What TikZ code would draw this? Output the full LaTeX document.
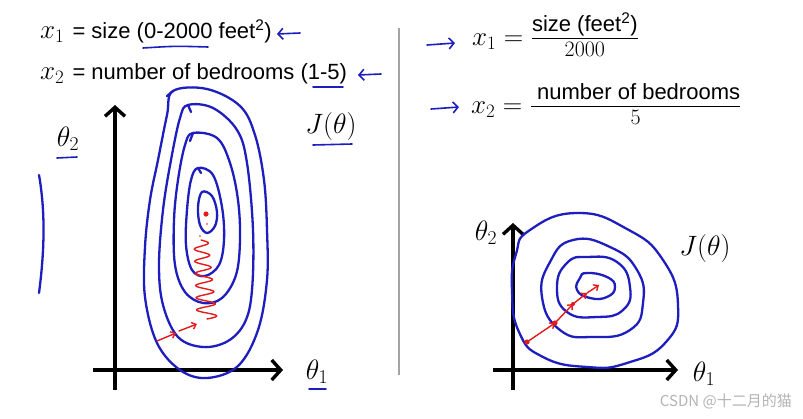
\RequirePackage{fix-cm}
\documentclass[tikz,border=0pt]{standalone}
\usepackage[no-math]{fontspec}
\usepackage{amsmath}
\usetikzlibrary{arrows.meta}
\newfontfamily\slidefont{Liberation Sans}
\newfontfamily\cjkfont{Noto Sans CJK SC}
\definecolor{pen}{HTML}{1E1EBE}
\definecolor{marker}{HTML}{E41B1B}
\definecolor{rule}{HTML}{A3A3A3}
\definecolor{stamp}{HTML}{B4B4B4}
\newcommand\sans{\slidefont\fontsize{22}{26}\selectfont}
\newcommand\slidetxt[1]{\text{\sans #1\rule[-5pt]{0pt}{5pt}}}
\newcommand\slidenum[1]{\text{\fontsize{22}{26}\selectfont\rule{0pt}{17pt}#1}}

\begin{document}
\begin{tikzpicture}[x=1pt, y=-1pt,
  lbl/.style={inner sep=0pt, font=\fontsize{27}{32}\selectfont},
  hand/.style={draw=pen, line width=1.6pt, line cap=round},
  handtip/.style={hand, -{Straight Barb[length=5pt, width=11pt]}},
  level/.style={draw=pen, line width=2.3pt, line cap=round},
  axis/.style={line width=3.4pt, -{Straight Barb[length=9pt, width=20pt]}},
  descent/.style={draw=marker, line width=1.4pt, line cap=round},
  steptip/.style={descent, -{Straight Barb[length=4pt, width=7pt]}}]
  \fill[white] (0,0) rectangle (803,418);
  \useasboundingbox (0,0) rectangle (803,418);

  % feature ranges
  \node[lbl, anchor=base west] (sizeline) at (40,38) {$x_1$ \sans = size (0-2000 feet\textsuperscript{2})};
  \node[lbl, anchor=base west] (roomline) at (40,79) {$x_2$ \sans = number of bedrooms (1-5)};
  \coordinate (w1) at (300,33); \coordinate (w1e) at (277,34);
  \coordinate (w2) at (381,74); \coordinate (w2e) at (358,75);
  \draw[handtip] (w1) -- (w1e);
  \draw[handtip] (w2) -- (w2e);
  \draw[hand] (143,48) .. controls (175,46) .. (208,47);
  \draw[hand] (313,87) -- (343,87);

  % scaled features
  \node[lbl, anchor=base west] (scaledone) at (472,45) {$x_1 = \frac{\slidetxt{size (feet\textsuperscript{2})}}{\slidenum{2000}}$};
  \node[lbl, anchor=base west] (scaledtwo) at (471,113) {$x_2 = \frac{\slidetxt{\ number of bedrooms}}{\slidenum{5}}$};
  \coordinate (e1) at (427,45); \coordinate (e1e) at (455,43);
  \coordinate (e2) at (431,109); \coordinate (e2e) at (459,107);
  \draw[handtip] (e1) -- (e1e);
  \draw[handtip] (e2) -- (e2e);

  \draw[rule, line width=1.5pt] (399,28) -- (399,375);

  % left: unscaled contours
  \draw[axis] (115,390) -- (115,105);
  \draw[axis] (93,370) -- (283,370);
  \node[lbl, font=\fontsize{28}{32}\selectfont] (thtwoL) at (68,139) {$\theta_2$};
  \node[lbl, font=\fontsize{28}{32}\selectfont] (thoneL) at (317,372) {$\theta_1$};
  \node[lbl, font=\fontsize{28}{32}\selectfont] (costL) at (331,126) {$J(\theta)$};
  \draw[hand] (57,158) -- (77,157);
  \draw[hand] (313,145) -- (352,144);
  \draw[hand] (309,389) -- (326,389);
  \draw[level] (39,175) .. controls (46,215) and (44,255) .. (39,293);

  \draw[level] plot[smooth cycle, tension=.6] coordinates {(173,91) (207,89) (240,106) (255,135) (264,180) (267,230) (267,280) (258,330) (238,366) (207,378) (180,370) (157,343) (145,297) (145,247) (150,200) (158,160) (167,115)};
  \draw[level] plot[smooth cycle, tension=.6] coordinates {(188,105) (213,108) (237,130) (247,163) (253,230) (252,290) (245,322) (228,341) (203,347) (178,337) (163,305) (159,265) (163,210) (171,160) (180,118)};
  \draw[level] plot[smooth cycle, tension=.6] coordinates {(193,133) (217,138) (230,163) (238,200) (240,240) (236,275) (222,298) (203,303) (185,292) (175,265) (174,220) (178,180) (185,145)};
  \draw[level] plot[smooth cycle, tension=.6] coordinates {(198,168) (213,175) (222,207) (224,240) (219,265) (205,276) (192,270) (186,245) (187,210) (191,180)};
  \draw[level] plot[smooth cycle, tension=.6] coordinates {(202,192) (212,196) (217,212) (215,226) (207,233) (200,225) (198,207)};
  \foreach \a/\b in {{167,96}/{173,91}, {191,112}/{188,105}, {190,141}/{193,133}, {201,173}/{198,168}}
    \draw[level] (\a) -- (\b);

  \draw[descent] plot[variable=\t, domain=0:1, samples=160, smooth]
    ({207 - 6*\t + (10 - 3*\t)*sin(\t*6.5*360)}, {319 - 79*\t});
  \coordinate (a0) at (157,341); \coordinate (a1) at (176,333);
  \coordinate (a2) at (179,331); \coordinate (a3) at (197,324);
  \draw[steptip] (a0) -- (a1);
  \draw[steptip] (a2) -- (a3);
  \fill[marker] (200,236) circle (0.8);
  \fill[marker] (207,224) circle (0.8);
  \fill[marker] (206,214) circle (2.6);

  % right: scaled contours
  \draw[axis] (513,390) -- (513,223);
  \draw[axis] (493,370) -- (678,370);
  \node[lbl, font=\fontsize{28}{32}\selectfont] (thtwoR) at (486,233) {$\theta_2$};
  \node[lbl, font=\fontsize{28}{32}\selectfont] (thoneR) at (704,374) {$\theta_1$};
  \node[lbl, font=\fontsize{28}{32}\selectfont] (costR) at (705,248) {$J(\theta)$};

  \draw[level] plot[smooth cycle, tension=.85] coordinates {(530,230) (577,213) (627,229) (663,260) (678,305) (666,342) (627,363) (587,367) (543,357) (519,332) (512,290) (516,254)};
  \draw[level] plot[smooth cycle, tension=.85] coordinates {(573,240) (610,247) (637,270) (643,303) (630,330) (593,337) (560,330) (542,297) (550,262)};
  \draw[level] plot[smooth cycle, tension=.85] coordinates {(587,257) (617,262) (630,287) (623,310) (597,317) (567,312) (557,287) (567,263)};
  \draw[level] plot[smooth cycle, tension=.85] coordinates {(587,273) (607,277) (615,287) (607,297) (590,298) (577,290) (580,278)};

  \coordinate (s0) at (527,342); \coordinate (s1) at (555,323);
  \coordinate (s2) at (573,304); \coordinate (s3) at (587,293);
  \coordinate (s4) at (599,285);
  \foreach \a/\b in {s0/s1, s1/s2, s2/s3, s3/s4}
    \draw[steptip] (\a) -- (\b);
  \foreach \p/\r in {s0/2.6, s1/2.6, s2/2}
    \fill[marker] (\p) circle (\r);

  \node[font=\cjkfont\fontsize{15}{17}\selectfont, text=stamp, anchor=east, inner sep=0pt] (credit) at (792,401) {CSDN @十二月的猫};
\end{tikzpicture}
\end{document}
